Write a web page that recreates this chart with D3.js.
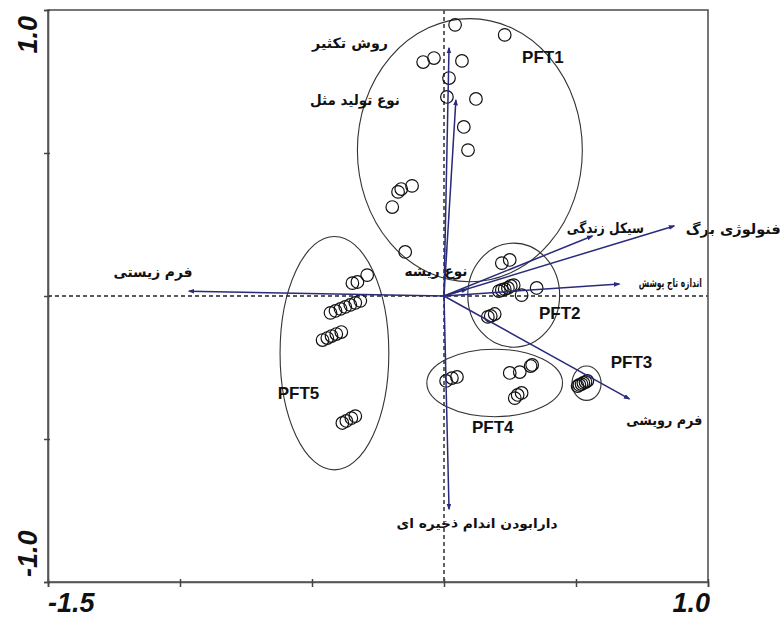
<!DOCTYPE html>
<html>
<head>
<meta charset="utf-8">
<script src="https://cdn.jsdelivr.net/npm/d3@7"></script>
<style>
  html, body { margin: 0; padding: 0; background: #fff; }
  svg { display: block; }
  .fa { font-family: "DejaVu Sans", sans-serif; font-weight: bold; fill: #111; }
  .pft { font-family: "Liberation Sans", Arial, sans-serif; font-weight: bold; fill: #111; }
  .tick-label { font-family: "Liberation Sans", Arial, sans-serif; font-weight: bold; font-style: italic; fill: #111; }
</style>
</head>
<body>
<svg id="chart" width="783" height="619"></svg>
<script>
// ---- Axis extents and tick values ----
const xDomain = [-1.5, 1.0];
const yDomain = [-1.0, 1.0];
const xTicks = [-1.5, -1.0, -0.5, 0, 0.5, 1.0];
const yTicks = [-1.0, -0.5, 0, 0.5, 1.0];
const xEndLabels = ["-1.5", "1.0"];
const yEndLabels = ["-1.0", "1.0"];

// ---- Trait vectors (biplot arrows) ----
const traitNames = [
  "فرم زیستی", "روش تکثیر", "نوع تولید مثل", "سیکل زندگی", "فنولوژی برگ",
  "اندازه تاج پوشش", "نوع ریشه", "فرم رویشی", "دارابودن اندام ذخیره ای"
];
const traitX = [-0.966, 0.019, 0.045, 0.562, 0.872, 0.664, 0.087, 0.702, 0.019];
const traitY = [ 0.017, 0.867, 0.685, 0.210, 0.245, 0.042, 0.024, -0.360, -0.745];

// ---- Species scores, grouped by plant functional type ----
const pft1X = [0.042, 0.230, -0.079, -0.038, 0.068, 0.019, 0.011, 0.121, 0.075, 0.091, -0.174, -0.162, -0.121, -0.196, -0.147];
const pft1Y = [0.948, 0.913, 0.818, 0.832, 0.822, 0.762, 0.696, 0.689, 0.591, 0.510, 0.364, 0.374, 0.385, 0.311, 0.154];
const pft2X = [0.219, 0.249, 0.208, 0.219, 0.230, 0.242, 0.253, 0.264, 0.294, 0.351, 0.166, 0.177, 0.192];
const pft2Y = [0.115, 0.126, 0.017, 0.021, 0.024, 0.028, 0.035, 0.038, 0.003, 0.028, -0.073, -0.070, -0.063];
const pft3X = [0.506, 0.513, 0.521, 0.528, 0.536, 0.543];
const pft3Y = [-0.315, -0.311, -0.308, -0.304, -0.301, -0.297];
const pft4X = [0.008, 0.030, 0.049, 0.249, 0.287, 0.328, 0.334, 0.268, 0.279, 0.294];
const pft4Y = [-0.297, -0.287, -0.283, -0.269, -0.266, -0.245, -0.241, -0.357, -0.346, -0.339];
const pft5X = [-0.347, -0.328, -0.291,
  -0.430, -0.411, -0.392, -0.374, -0.355, -0.336, -0.317,
  -0.460, -0.442, -0.426, -0.408, -0.389,
  -0.385, -0.370, -0.351, -0.336];
const pft5Y = [0.045, 0.049, 0.073,
  -0.059, -0.052, -0.045, -0.038, -0.031, -0.024, -0.017,
  -0.154, -0.147, -0.140, -0.133, -0.126,
  -0.444, -0.437, -0.427, -0.420];

// ---- Group envelopes (centre and radii in score units) ----
const groupNames = ["PFT1", "PFT2", "PFT3", "PFT4", "PFT5"];
const groupCx = [0.098, 0.264, 0.540, 0.192, -0.415];
const groupCy = [0.510, 0.003, -0.305, -0.304, -0.200];
const groupRx = [0.426, 0.174, 0.055, 0.257, 0.206];
const groupRy = [0.460, 0.182, 0.060, 0.118, 0.408];

// ---- Layout ----
const svg = d3.select("#chart");
const plot = { left: 48, right: 708, top: 10, bottom: 582 };
const x = d3.scaleLinear().domain(xDomain).range([plot.left, plot.right]);
const y = d3.scaleLinear().domain(yDomain).range([plot.bottom, plot.top]);

const arrowColor = "#2a2a7c";
const inkColor = "#222";

// Label placement relative to each arrow tip (px): [dx, dy], plus set width
const traitLabelOffset = [
  [-36, -19], [-99, -5], [-101, 0], [13, -8], [59, 3],
  [51, -1], [-31, -18], [35, 21], [28, 14]
];
const traitLabelWidth = [79, 76, 90, 77, 95, 63, 63, 76, 161];
const traitLabelSize = [14, 14, 14, 14, 14, 12, 14, 14, 13];
// Group label placement relative to envelope centre (px)
const groupLabelOffset = [[73, -93], [46, 18], [45, -21], [-2, 45], [-36, 40]];

// Dashed zero lines
svg.append("line")
  .attr("x1", plot.left).attr("x2", plot.right)
  .attr("y1", y(0)).attr("y2", y(0))
  .attr("stroke", inkColor).attr("stroke-width", 1.4).attr("stroke-dasharray", "4,3");
svg.append("line")
  .attr("x1", x(0)).attr("x2", x(0))
  .attr("y1", plot.top).attr("y2", plot.bottom)
  .attr("stroke", inkColor).attr("stroke-width", 1.4).attr("stroke-dasharray", "4,3");

// Group envelopes
const groups = groupNames.map((n, i) => ({
  name: n, cx: groupCx[i], cy: groupCy[i], rx: groupRx[i], ry: groupRy[i], off: groupLabelOffset[i]
}));
svg.append("g").selectAll("ellipse").data(groups).join("ellipse")
  .attr("cx", d => x(d.cx)).attr("cy", d => y(d.cy))
  .attr("rx", d => x(d.rx) - x(0)).attr("ry", d => y(0) - y(d.ry))
  .attr("fill", "none").attr("stroke", "#333").attr("stroke-width", 1.1);

// Species points
const pts = [];
[[pft1X, pft1Y], [pft2X, pft2Y], [pft3X, pft3Y], [pft4X, pft4Y], [pft5X, pft5Y]].forEach(([xs, ys]) => {
  xs.forEach((v, i) => pts.push({ x: v, y: ys[i] }));
});
svg.append("g").selectAll("circle").data(pts).join("circle")
  .attr("cx", d => x(d.x)).attr("cy", d => y(d.y)).attr("r", 6.3)
  .attr("fill", "none").attr("stroke", "#111").attr("stroke-width", 1.2);

// Trait arrows
svg.append("defs").append("marker")
  .attr("id", "head").attr("viewBox", "0 0 10 10")
  .attr("refX", 8).attr("refY", 5)
  .attr("markerWidth", 4.5).attr("markerHeight", 4.5)
  .attr("orient", "auto")
  .append("path").attr("d", "M0,1.5 L10,5 L0,8.5 Z").attr("fill", arrowColor);

const traits = traitNames.map((n, i) => ({
  name: n, x: traitX[i], y: traitY[i], off: traitLabelOffset[i],
  size: traitLabelSize[i], w: traitLabelWidth[i]
}));
svg.append("g").selectAll("line").data(traits).join("line")
  .attr("x1", x(0)).attr("y1", y(0))
  .attr("x2", d => x(d.x)).attr("y2", d => y(d.y))
  .attr("stroke", arrowColor).attr("stroke-width", 1.5)
  .attr("marker-end", "url(#head)");

svg.append("g").selectAll("text").data(traits).join("text")
  .attr("class", "fa")
  .attr("x", d => x(d.x) + d.off[0]).attr("y", d => y(d.y) + d.off[1])
  .attr("text-anchor", "middle").attr("dominant-baseline", "central")
  .attr("direction", "rtl")
  .attr("textLength", d => d.w).attr("lengthAdjust", "spacingAndGlyphs")
  .style("font-size", d => d.size + "px")
  .text(d => d.name);

// Group labels
svg.append("g").selectAll("text").data(groups).join("text")
  .attr("class", "pft")
  .attr("x", d => x(d.cx) + d.off[0]).attr("y", d => y(d.cy) + d.off[1])
  .attr("text-anchor", "middle").attr("dominant-baseline", "central")
  .style("font-size", "17px")
  .text(d => d.name);

// Frame and axes
svg.append("rect")
  .attr("x", plot.left).attr("y", plot.top)
  .attr("width", plot.right - plot.left).attr("height", plot.bottom - plot.top)
  .attr("fill", "none").attr("stroke", "#555").attr("stroke-width", 1.6);

const xAxis = svg.append("g").attr("transform", `translate(0,${plot.bottom})`)
  .call(d3.axisBottom(x).tickValues(xTicks).tickSize(5).tickFormat(""));
xAxis.select(".domain").attr("stroke", "#555").attr("stroke-width", 1.6);
xAxis.selectAll(".tick line").attr("y1", -3).attr("stroke", "#444").attr("stroke-width", 1.5);

const yAxis = svg.append("g").attr("transform", `translate(${plot.left},0)`)
  .call(d3.axisLeft(y).tickValues(yTicks).tickSize(4).tickFormat(""));
yAxis.select(".domain").attr("stroke", "#555").attr("stroke-width", 1.6);
yAxis.selectAll(".tick line").attr("x1", 2).attr("stroke", "#444").attr("stroke-width", 1.5);

// End labels on the axes
svg.append("text").attr("class", "tick-label")
  .attr("x", x(xDomain[0])).attr("y", 612)
  .attr("text-anchor", "start").style("font-size", "27px")
  .text(xEndLabels[0]);
svg.append("text").attr("class", "tick-label")
  .attr("x", x(xDomain[1]) + 2).attr("y", 612)
  .attr("text-anchor", "end").style("font-size", "27px")
  .text(xEndLabels[1]);
svg.append("text").attr("class", "tick-label")
  .attr("transform", `translate(37,${y(yDomain[0]) - 5}) rotate(-90)`)
  .attr("text-anchor", "start").style("font-size", "27px")
  .text(yEndLabels[0]);
svg.append("text").attr("class", "tick-label")
  .attr("transform", `translate(37,${y(yDomain[1]) + 6}) rotate(-90)`)
  .attr("text-anchor", "end").style("font-size", "27px")
  .text(yEndLabels[1]);
</script>
</body>
</html>
